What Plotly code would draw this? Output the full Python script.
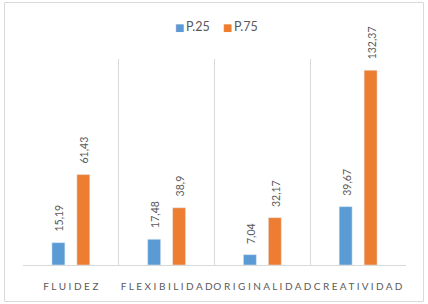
import plotly.graph_objects as go

categories = ["FLUIDEZ", "FLEXIBILIDAD", "ORIGINALIDAD", "CREATIVIDAD"]
p25 = [15.19, 17.48, 7.04, 39.67]
p75 = [61.43, 38.9, 32.17, 132.37]
series_names = ["P.25", "P.75"]
colors = ["#5B9BD5", "#ED7D31"]

def fmt(v):
    s = f"{v:.2f}".rstrip("0").rstrip(".")
    return s.replace(".", ",")

def spaced(s):
    return " ".join(list(s))

tick_text = [spaced(c) for c in categories]

W, H = 428, 304
L, R, T, B = 23, 22, 59, 39
PW, PH = W - L - R, H - T - B

def px(x):
    return (x - L) / PW

def py(y):
    return (H - B - y) / PH

fig = go.Figure()
for name, vals, col in zip(series_names, [p25, p75], colors):
    fig.add_trace(go.Bar(x=categories, y=vals, name=name, marker_color=col,
                         showlegend=False, hoverinfo="skip"))

annotations = []
for vals, shift in zip([p25, p75], [-12.5, 12.5]):
    for c, v in zip(categories, vals):
        annotations.append(dict(x=c, y=v, text=fmt(v), showarrow=False,
                                textangle=-90, xanchor="center", yanchor="bottom",
                                xshift=shift + 1, yshift=9,
                                font=dict(size=10.5, color="#595959", family="Lato")))

# legend entries
for name, col, x0 in zip(series_names, colors, [173, 221]):
    annotations.append(dict(
        xref="paper", yref="paper", x=px(x0), y=py(26), xanchor="left", yanchor="middle",
        showarrow=False,
        text=f"<span style='color:{col};font-size:10px;font-family:DejaVu Sans'>■</span>\u2009{name}",
        font=dict(size=12.5, color="#595959", family="Lato")))

fig.update_layout(
    width=W, height=H,
    margin=dict(l=L, r=R, t=T, b=B),
    paper_bgcolor="white", plot_bgcolor="white",
    barmode="group", bargap=0.479, bargroupgap=0.48,
    font=dict(family="Lato", color="#595959"),
    showlegend=False,
    annotations=annotations,
    shapes=[dict(type="rect", xref="paper", yref="paper",
                 x0=px(4.5), x1=px(423.5),
                 y0=py(301.5), y1=py(2.5),
                 line=dict(color="#D9D9D9", width=1), fillcolor="rgba(0,0,0,0)",
                 layer="below")],
)
fig.update_xaxes(
    tickvals=categories, ticktext=tick_text, tickangle=0,
    tickson="boundaries", showgrid=True, gridcolor="#D9D9D9", gridwidth=1,
    showline=True, linecolor="#D9D9D9", linewidth=1,
    ticks="", ticklabelstandoff=12,
    tickfont=dict(size=10, color="#595959", family="Lato"),
    range=[-0.5, 3.5],
)
fig.update_yaxes(range=[0, 140], showgrid=False, showticklabels=False,
                 zeroline=False, showline=False)

fig.write_html("out.html", config={"displayModeBar": False},
               post_script="document.body.style.margin='0px';")
